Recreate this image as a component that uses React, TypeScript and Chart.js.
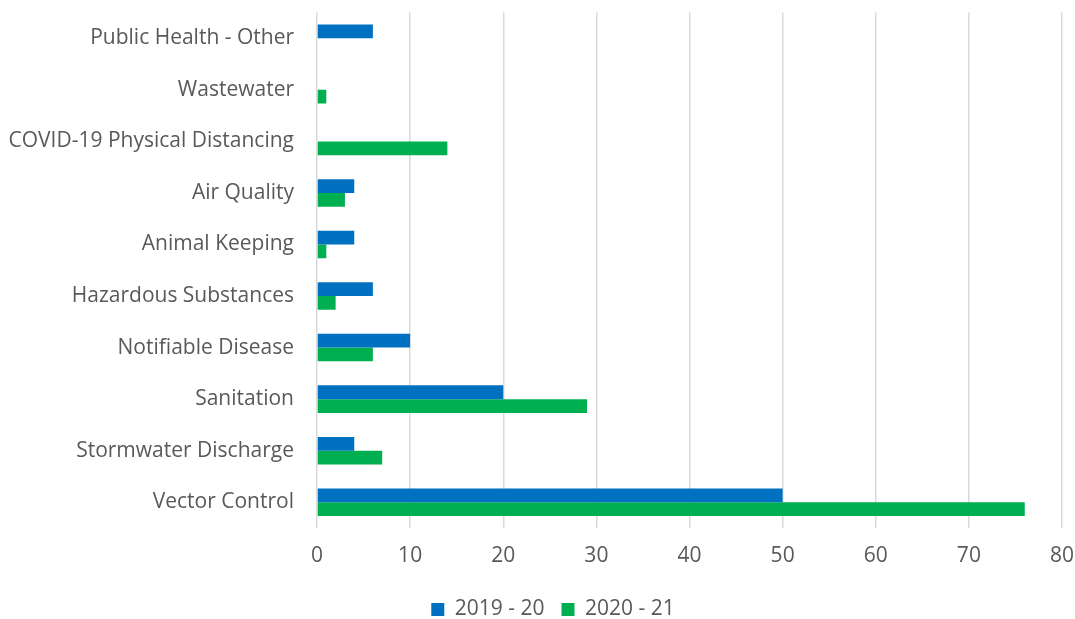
import React, { useEffect, useRef } from "react";
import { Chart, registerables } from "chart.js";

Chart.register(...registerables);

const categories = [
  "Public Health - Other",
  "Wastewater",
  "COVID-19 Physical Distancing",
  "Air Quality",
  "Animal Keeping",
  "Hazardous Substances",
  "Notifiable Disease",
  "Sanitation",
  "Stormwater Discharge",
  "Vector Control",
];

const series2019 = [6, 0, 0, 4, 4, 6, 10, 20, 4, 50];
const series2020 = [0, 1, 14, 3, 1, 2, 6, 29, 7, 76];

const seriesLabels = ["2019 - 20", "2020 - 21"];
const seriesColors = ["#0070C0", "#00B050"];

const xMin = 0;
const xMax = 80;
const xStep = 10;

const FONT = "'Open Sans', sans-serif";
const FONT_SIZE = 21;
const TEXT = "#595959";

// Nudges the legend so it sits centred under the whole figure, close to the bottom edge.
const legendShift = {
  id: "legendShift",
  afterLayout(chart: any) {
    if (chart.legend) {
      chart.legend.left += 31;
      chart.legend.top += 11;
    }
  },
};

export default function App() {
  const canvasRef = useRef<HTMLCanvasElement | null>(null);

  useEffect(() => {
    if (!canvasRef.current) return;
    const chart = new Chart(canvasRef.current, {
      type: "bar",
      data: {
        labels: categories,
        datasets: [
          {
            label: seriesLabels[0],
            data: series2019,
            backgroundColor: seriesColors[0],
            categoryPercentage: 0.534,
            barPercentage: 1,
          },
          {
            label: seriesLabels[1],
            data: series2020,
            backgroundColor: seriesColors[1],
            categoryPercentage: 0.534,
            barPercentage: 1,
          },
        ],
      },
      options: {
        indexAxis: "y",
        animation: false,
        responsive: true,
        maintainAspectRatio: false,
        layout: { padding: 0 },
        plugins: {
          tooltip: { enabled: false },
          legend: {
            position: "bottom",
            labels: {
              color: TEXT,
              font: { family: FONT, size: FONT_SIZE },
              boxWidth: 13,
              boxHeight: 13,
              padding: 17,
            },
          },
        },
        scales: {
          x: {
            min: xMin,
            max: xMax,
            ticks: {
              stepSize: xStep,
              color: TEXT,
              font: { family: FONT, size: FONT_SIZE },
              padding: 15,
            },
            grid: { color: "#D9D9D9", lineWidth: 1.5, drawTicks: false },
            border: { display: false },
            afterFit: (scale: any) => {
              scale.height = 43;
              scale.paddingRight = 13;
              scale.paddingLeft = 0;
            },
          },
          y: {
            ticks: {
              color: TEXT,
              font: { family: FONT, size: FONT_SIZE },
              padding: 23,
            },
            grid: { display: false, drawTicks: false },
            border: { display: false },
            afterFit: (scale: any) => {
              scale.width = 317;
              scale.paddingTop = 12.5;
              scale.paddingBottom = 0;
            },
          },
        },
      },
      plugins: [legendShift],
    });
    return () => chart.destroy();
  }, []);

  return (
    <div style={{ position: "fixed", left: 0, top: 0, width: 1075, height: 619, background: "#fff" }}>
      <canvas ref={canvasRef} />
    </div>
  );
}
